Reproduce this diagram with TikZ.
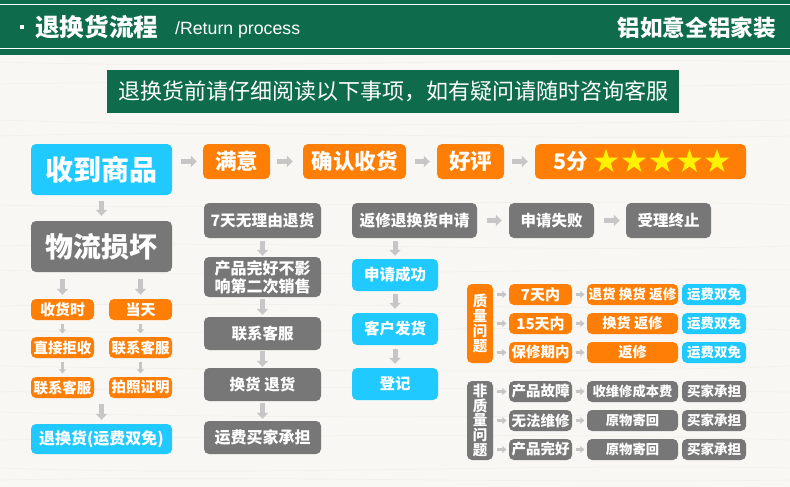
\documentclass[tikz,border=0pt]{standalone}
\usepackage{fontspec}
\setmainfont{Noto Sans CJK SC}
\newfontfamily\latinfont{Liberation Sans}
\usetikzlibrary{arrows.meta,shapes.geometric}

\definecolor{woodbg}{HTML}{F8F7F3}
\definecolor{woodline}{HTML}{F2F0EA}
\definecolor{headgreen}{HTML}{0E6C4C}
\definecolor{boxorange}{HTML}{FF7F06}
\definecolor{boxblue}{HTML}{20C9FF}
\definecolor{boxgray}{HTML}{777777}
\definecolor{arrowgray}{HTML}{C6C6C6}

\tikzset{
  txt/.style={text=white,font=\fontsize{#1}{#1}\selectfont\bfseries},
  flowbox/.style 2 args={rounded corners=5pt,inner sep=0pt,minimum width=#1,minimum height=#2},
  orangebox/.style 2 args={flowbox={#1}{#2},fill=boxorange},
  bluebox/.style 2 args={flowbox={#1}{#2},fill=boxblue},
  graybox/.style 2 args={flowbox={#1}{#2},fill=boxgray},
  bigarrow/.style={draw=arrowgray,line width=5pt,-{Triangle[length=6pt,width=11pt]}},
  smallarrow/.style={draw=arrowgray,line width=3pt,-{Triangle[length=4pt,width=7.5pt]}},
  grain/.style={draw=woodline,line width=0.7pt},
  goldstar/.style={star,star points=5,star point ratio=2.6,fill=yellow,inner sep=0pt,minimum size=25.5pt},
}

\begin{document}
\begin{tikzpicture}[x=1pt,y=-1pt]
\useasboundingbox (0,0) rectangle (790,487);

% background
\fill[woodbg] (0,0) rectangle (790,487);
\foreach \y/\a/\b in {62/8/-6,84/-5/7,120/9/4,136/-8/6,205/6/-9,246/-7/8,270/10/-3,306/-6/5,
  330/8/-8,366/4/9,392/-9/-2,412/7/6,440/-4/-8,468/9/-5,480/-5/4}
{
\draw[grain] (0,\y) .. controls (260,\y+\a) and (530,\y+\b) .. (790,\y);
}

% header
\fill[headgreen] (0,0) rectangle (790,55);
\draw[white,line width=1pt] (0,4.7) -- (790,4.7);
\draw[white,line width=1pt] (0,49) -- (790,49);
\node[fill=white,inner sep=0pt,minimum size=4pt] (dot) at (22,27) {};
\node[txt=24.6,anchor=west,inner sep=0pt] (title) at (35,27) {退换货流程};
\node[text=white,anchor=west,inner sep=0pt,font=\fontsize{17.7}{17.7}\latinfont\selectfont] (subtitle) at (175,29.5) {/Return process};
\node[txt=22.6,anchor=east,inner sep=0pt] (brand) at (776,28) {铝如意全铝家装};

% notice
\node[fill=headgreen,text=white,inner sep=0pt,minimum width=572pt,minimum height=43pt,font=\fontsize{22}{22}\selectfont] (notice) at (393,91.5) {退换货前请仔细阅读以下事项{\char"FF0C}如有疑问请随时咨询客服};

% top row
\node[bluebox={141pt}{51pt},txt=28] (receive) at (101.5,169.5) {收到商品};
\node[orangebox={67pt}{35pt},txt=21.5] (happy) at (236.5,161.5) {满意};
\node[orangebox={103pt}{35pt},txt=21.5] (confirm) at (354.5,161.5) {确认收货};
\node[orangebox={67pt}{35pt},txt=21.5] (praise) at (470.5,161.5) {好评};
\node[orangebox={211pt}{35pt}] (score) at (640.5,161.5) {};
\node[txt=21.5,inner sep=0pt] (five) at (571,161.5) {5分};
\foreach \x [count=\i] in {606,634,662,689.5,717}
{
\node[goldstar] (star\i) at (\x,161.6) {};
}

% left column
\node[graybox={141pt}{51pt},txt=28] (damage) at (101.5,246.5) {物流损坏};
\node[orangebox={63pt}{21pt},txt=15] (ontime) at (62.5,309.5) {收货时};
\node[orangebox={63pt}{21pt},txt=15] (sameday) at (140.5,309.5) {当天};
\node[orangebox={63pt}{21pt},txt=14.5] (refuse) at (62.5,347.5) {直接拒收};
\node[orangebox={63pt}{21pt},txt=14.5] (callone) at (140.5,347.5) {联系客服};
\node[orangebox={63pt}{21pt},txt=14.5] (calltwo) at (62.5,387.5) {联系客服};
\node[orangebox={63pt}{21pt},txt=14.5] (photo) at (140.5,387.5) {拍照证明};
\node[bluebox={141pt}{30pt},txt=16] (freeswap) at (101.5,439) {退换货(运费双免)};

% second column
\node[graybox={117pt}{35pt},txt=15.7] (seven) at (262.5,220.5) {7天无理由退货};
\node[graybox={117pt}{40pt},txt=16,align=center] (intact) at (262.5,277) {产品完好不影\\[2pt]响第二次销售};
\node[graybox={117pt}{33pt},txt=15.5] (callthree) at (262.5,333.5) {联系客服};
\node[graybox={117pt}{33pt},txt=15.5] (swap) at (262.5,384.5) {换货 退货};
\node[graybox={117pt}{33pt},txt=16] (buyerpay) at (262.5,437.5) {运费买家承担};

% third column
\node[graybox={125pt}{35pt},txt=15.7] (apply) at (414.5,220.5) {返修退换货申请};
\node[graybox={85pt}{35pt},txt=15.5] (fail) at (551.5,220.5) {申请失败};
\node[graybox={85pt}{35pt},txt=15.5] (stop) at (668.5,220.5) {受理终止};
\node[bluebox={86pt}{32pt},txt=15.5] (success) at (395,275) {申请成功};
\node[bluebox={86pt}{32pt},txt=15.5] (send) at (395,329) {客户发货};
\node[bluebox={86pt}{32pt},txt=15.5] (record) at (395,384) {登记};

% quality table
\node[orangebox={26pt}{79pt},txt=14.5,align=center] (quality) at (480,323.5) {质\\[0.3pt]量\\[0.3pt]问\\[0.3pt]题};
\node[orangebox={63pt}{21pt},txt=15] (qa) at (540.5,294.5) {7天内};
\node[orangebox={63pt}{21pt},txt=15] (qb) at (540.5,323.5) {15天内};
\node[orangebox={63pt}{21pt},txt=14.5] (qc) at (540.5,352.5) {保修期内};
\node[orangebox={91pt}{21pt},txt=13.6] (qaa) at (632.5,294.5) {退货 换货 返修};
\node[orangebox={91pt}{21pt},txt=14.2] (qba) at (632.5,323.5) {换货 返修};
\node[orangebox={91pt}{21pt},txt=14.2] (qca) at (632.5,352.5) {返修};
\foreach \y/\n in {294.5/qab,323.5/qbb,352.5/qcb}
{
\node[bluebox={64pt}{21pt},txt=13.5] (\n) at (714,\y) {运费双免};
}

% non quality table
\node[graybox={26pt}{79pt},txt=14.5,align=center] (nonquality) at (480,420.5) {非\\[0.3pt]质\\[0.3pt]量\\[0.3pt]问\\[0.3pt]题};
\node[graybox={63pt}{21pt},txt=14.5] (na) at (540.5,391.5) {产品故障};
\node[graybox={63pt}{21pt},txt=14.5] (nb) at (540.5,420.5) {无法维修};
\node[graybox={63pt}{21pt},txt=14.5] (nc) at (540.5,449.5) {产品完好};
\node[graybox={91pt}{21pt},txt=13.3] (naa) at (632.5,391.5) {收维修成本费};
\node[graybox={91pt}{21pt},txt=13.3] (nba) at (632.5,420.5) {原物寄回};
\node[graybox={91pt}{21pt},txt=13.3] (nca) at (632.5,449.5) {原物寄回};
\foreach \y/\n in {391.5/nab,420.5/nbb,449.5/ncb}
{
\node[graybox={64pt}{21pt},txt=13.5] (\n) at (714,\y) {买家承担};
}

% arrows along the rows
\foreach \a/\b/\s/\e in {receive/happy/9/6,happy/confirm/7/10,confirm/praise/9/7,praise/score/8/7,apply/fail/10/7,fail/stop/10/6}
{
\draw[bigarrow,shorten <=\s pt,shorten >=\e pt] (\a.east |- \b.west) -- (\b.west);
}

% arrows down the columns
\foreach \a/\b/\s/\e in {receive/damage/6/5,damage/ontime/7/4,damage/sameday/7/4,seven/intact/3/1,intact/callthree/2/2,callthree/swap/1/1,swap/buyerpay/2/2,apply/success/3/3,success/send/3/4,send/record/4/4}
{
\draw[bigarrow,shorten <=\s pt,shorten >=\e pt] (\b.north |- \a.south) -- (\b.north);
}
\draw[bigarrow,shorten <=6pt,shorten >=4pt] (freeswap.north |- calltwo.south) -- (freeswap.north);

\foreach \a/\b in {ontime/refuse,sameday/callone,refuse/calltwo,callone/photo}
{
\draw[smallarrow,shorten <=3.5pt,shorten >=3.5pt] (\a.south) -- (\b.north);
}

% small arrows in the tables
\foreach \a/\b in {quality/qa,quality/qb,quality/qc,nonquality/na,nonquality/nb,nonquality/nc,qa/qaa,qb/qba,qc/qca,na/naa,nb/nba,nc/nca}
{
\draw[smallarrow,shorten <=3.5pt,shorten >=2.5pt] (\a.east |- \b.west) -- (\b.west);
}

\end{tikzpicture}
\end{document}
